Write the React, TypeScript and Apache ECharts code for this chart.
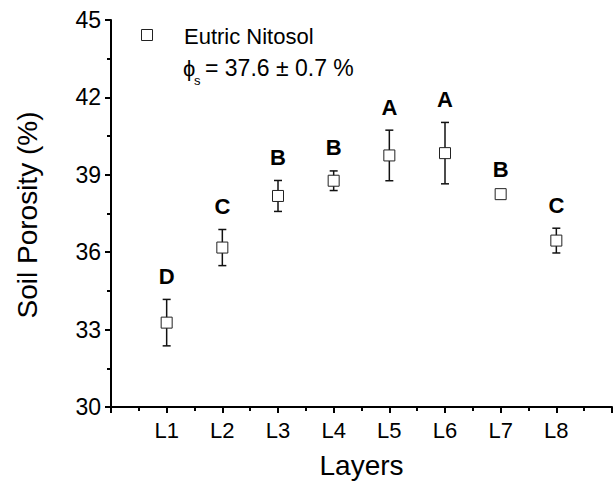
import React, { useEffect, useRef } from "react";
import * as echarts from "echarts";

const layers = ["L1", "L2", "L3", "L4", "L5", "L6", "L7", "L8"];
const porosity = [33.27, 36.18, 38.18, 38.77, 39.75, 39.84, 38.25, 36.45];
const errors = [0.9, 0.7, 0.6, 0.38, 0.98, 1.19, 0.06, 0.48];
const letters = ["D", "C", "B", "B", "A", "A", "B", "C"];
const yTicks = [30, 33, 36, 39, 42, 45];

const FONT = "Liberation Sans, Arial, sans-serif";

export default function App() {
  const ref = useRef<HTMLDivElement>(null);
  useEffect(() => {
    const chart = echarts.init(ref.current!, null, { renderer: "svg" });
    const pts = porosity.map((v, i) => [i + 1, v]);
    const errData = porosity.map((v, i) => [i + 1, v - errors[i], v + errors[i], i]);
    chart.setOption({
      animation: false,
      backgroundColor: "#fff",
      grid: { left: 111, right: -2, top: 20, bottom: 83 },
      xAxis: {
        type: "value",
        min: 0,
        max: 9,
        interval: 1,
        name: "Layers",
        nameLocation: "middle",
        nameGap: 44,
        nameTextStyle: { fontFamily: FONT, fontSize: 28, color: "#000" },
        axisLine: { lineStyle: { color: "#000", width: 2 } },
        axisTick: { show: true, length: 6, lineStyle: { color: "#000", width: 2 } },
        minorTick: { show: true, splitNumber: 2, length: 4, lineStyle: { color: "#000", width: 2 } },
        splitLine: { show: false },
        axisLabel: {
          fontFamily: FONT,
          fontSize: 22,
          color: "#000",
          margin: 12,
          formatter: (v: number) => (v >= 1 && v <= layers.length ? layers[v - 1] : ""),
        },
      },
      yAxis: {
        type: "value",
        min: yTicks[0],
        max: yTicks[yTicks.length - 1],
        interval: 3,
        axisLine: { show: true, lineStyle: { color: "#000", width: 2 } },
        axisTick: { show: true, length: 6, lineStyle: { color: "#000", width: 2 } },
        minorTick: { show: true, splitNumber: 2, length: 4, lineStyle: { color: "#000", width: 2 } },
        splitLine: { show: false },
        axisLabel: { fontFamily: FONT, fontSize: 23, color: "#000", margin: 10 },
      },
      graphic: [
        {
          type: "text",
          x: 27,
          y: 215,
          rotation: Math.PI / 2,
          style: {
            text: "Soil Porosity (%)",
            font: `28px ${FONT}`,
            fill: "#000",
            textAlign: "center",
            textVerticalAlign: "middle",
          },
        },
        {
          type: "rect",
          shape: { x: 141.5, y: 29.5, width: 11, height: 11 },
          style: { fill: "#fff", stroke: "#222", lineWidth: 1 },
        },
        {
          type: "text",
          x: 184,
          y: 36,
          style: { text: "Eutric Nitosol", font: `22px ${FONT}`, fill: "#000", textVerticalAlign: "middle" },
        },
        {
          type: "text",
          x: 183,
          y: 68,
          style: { text: "ϕ", font: `22px ${FONT}`, fill: "#000", textVerticalAlign: "middle" },
        },
        {
          type: "text",
          x: 194,
          y: 80,
          style: { text: "s", font: `13px ${FONT}`, fill: "#000", textVerticalAlign: "middle" },
        },
        {
          type: "text",
          x: 205,
          y: 68,
          style: { text: "= 37.6 ± 0.7 %", font: `23px ${FONT}`, fill: "#000", textVerticalAlign: "middle" },
        },
      ],
      series: [
        {
          type: "custom",
          z: 1,
          data: errData,
          renderItem: (params: any, api: any) => {
            const x = api.value(0);
            const lo = api.coord([x, api.value(1)]);
            const hi = api.coord([x, api.value(2)]);
            const idx = api.value(3);
            const cap = 4;
            const style = { stroke: "#111", lineWidth: 1.5 };
            return {
              type: "group",
              children: [
                { type: "line", shape: { x1: lo[0], y1: lo[1], x2: hi[0], y2: hi[1] }, style },
                { type: "line", shape: { x1: lo[0] - cap, y1: lo[1], x2: lo[0] + cap, y2: lo[1] }, style },
                { type: "line", shape: { x1: hi[0] - cap, y1: hi[1], x2: hi[0] + cap, y2: hi[1] }, style },
                {
                  type: "text",
                  x: hi[0],
                  y: hi[1] - 23,
                  style: {
                    text: letters[idx],
                    font: `bold 22px ${FONT}`,
                    fill: "#000",
                    textAlign: "center",
                    textVerticalAlign: "middle",
                  },
                },
              ],
            };
          },
        },
        {
          type: "scatter",
          z: 2,
          data: pts,
          symbol: "rect",
          symbolSize: 11,
          itemStyle: { color: "#fff", borderColor: "#222", borderWidth: 1, opacity: 1 },
        },
      ],
    });
    return () => chart.dispose();
  }, []);
  return (
    <div
      ref={ref}
      style={{ position: "fixed", left: 0, top: 0, width: 615, height: 490, background: "#fff" }}
    />
  );
}
